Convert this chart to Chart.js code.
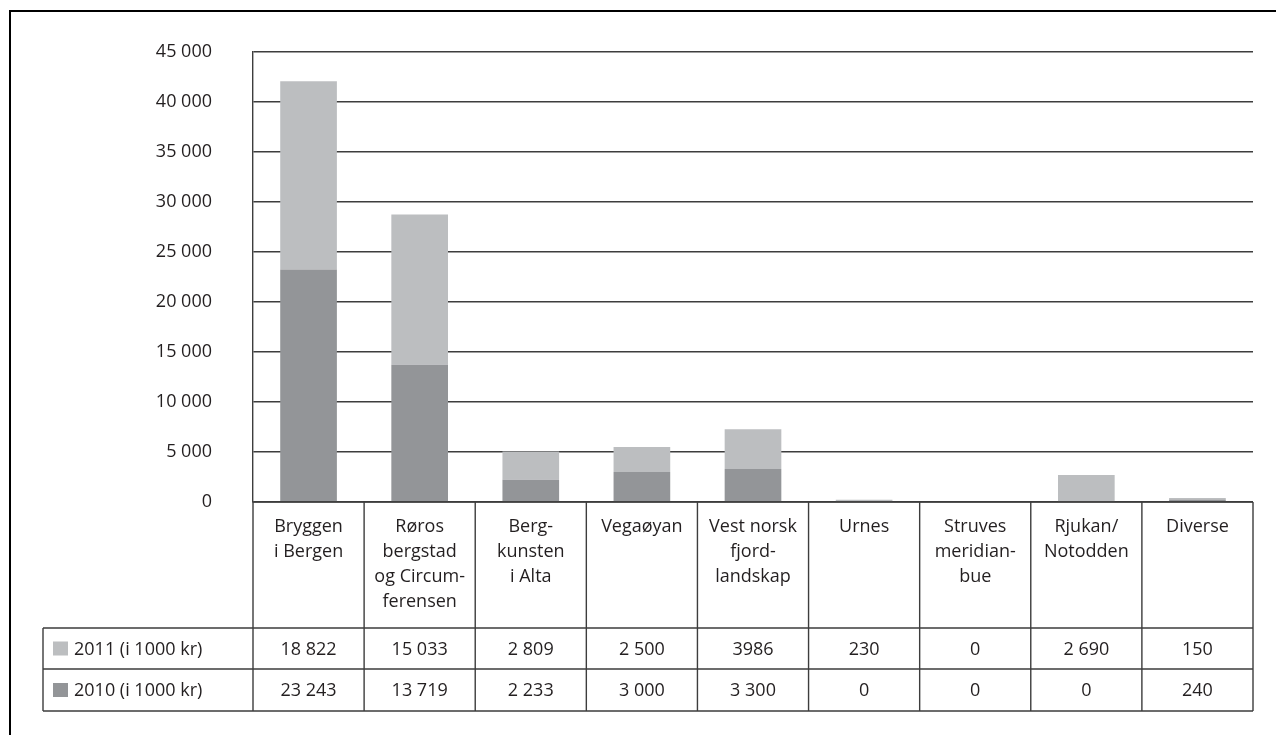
<!DOCTYPE html>
<html>
<head>
<meta charset="utf-8">
<script src="https://cdn.jsdelivr.net/npm/chart.js@4/dist/chart.umd.min.js"></script>
<style>
html,body{margin:0;padding:0;background:#fff;}
#wrap{width:1276px;height:735px;position:relative;}
</style>
</head>
<body>
<div id="wrap"><canvas id="c" width="1276" height="735"></canvas></div>
<script>
const categories = [
  ["Bryggen","i Bergen"],
  ["Røros","bergstad","og Circum-","ferensen"],
  ["Berg-","kunsten","i Alta"],
  ["Vegaøyan"],
  ["Vest norsk","fjord-","landskap"],
  ["Urnes"],
  ["Struves","meridian-","bue"],
  ["Rjukan/","Notodden"],
  ["Diverse"]
];
const values2011 = [18822, 15033, 2809, 2500, 3986, 230, 0, 2690, 150];
const values2010 = [23243, 13719, 2233, 3000, 3300, 0, 0, 0, 240];
const tableText2011 = ["18 822","15 033","2 809","2 500","3986","230","0","2 690","150"];
const tableText2010 = ["23 243","13 719","2 233","3 000","3 300","0","0","0","240"];
const seriesNames = ["2011 (i 1000 kr)", "2010 (i 1000 kr)"];
const yTicks = [0, 5000, 10000, 15000, 20000, 25000, 30000, 35000, 40000, 45000];

const COLOR_2011 = '#bcbec0';
const COLOR_2010 = '#939598';
const TEXT = '#231f20';
const LINE = '#3d3d3d';
const FONT = '"Open Sans", "Noto Sans", sans-serif';

function fmt(v){ return String(v).replace(/\B(?=(\d{3})+(?!\d))/g, ' '); }

const tablePlugin = {
  id: 'tablePlugin',
  afterDraw(chart){
    const ctx = chart.ctx;
    const x = chart.scales.x;
    const ca = chart.chartArea;
    const n = categories.length;
    const colW = (ca.right - ca.left) / n;
    const yTop = ca.bottom;          // 502
    const yRow1 = yTop + 126;        // 628
    const yRow2 = yRow1 + 41;        // 669
    const yBot = yRow2 + 42;         // 711
    const tableLeft = 43;
    ctx.save();
    // outer border
    ctx.strokeStyle = '#000';
    ctx.lineWidth = 2;
    ctx.beginPath();
    ctx.moveTo(10, 735); ctx.lineTo(10, 11); ctx.lineTo(1276, 11);
    ctx.stroke();

    ctx.strokeStyle = LINE;
    ctx.lineWidth = 1.4;
    ctx.beginPath();
    // horizontal lines
    ctx.moveTo(ca.left, yTop); ctx.lineTo(ca.right, yTop);
    ctx.moveTo(tableLeft, yRow1); ctx.lineTo(ca.right, yRow1);
    ctx.moveTo(tableLeft, yRow2); ctx.lineTo(ca.right, yRow2);
    ctx.moveTo(tableLeft, yBot); ctx.lineTo(ca.right, yBot);
    // verticals
    ctx.moveTo(tableLeft, yRow1); ctx.lineTo(tableLeft, yBot);
    for (let i = 0; i <= n; i++) {
      const xx = ca.left + i * colW;
      ctx.moveTo(xx, yTop); ctx.lineTo(xx, yBot);
    }
    ctx.stroke();

    ctx.fillStyle = TEXT;
    ctx.font = '18px ' + FONT;
    ctx.textAlign = 'center';
    ctx.textBaseline = 'middle';
    for (let i = 0; i < n; i++) {
      const cx = x.getPixelForValue(i);
      categories[i].forEach((line, k) => {
        ctx.fillText(line, cx, yTop + 25 + k * 25);
      });
      ctx.fillText(tableText2011[i], cx, (yRow1 + yRow2) / 2 + 1);
      ctx.fillText(tableText2010[i], cx, (yRow2 + yBot) / 2 + 1);
    }
    // row labels with legend squares
    ctx.textAlign = 'left';
    ctx.fillStyle = COLOR_2011;
    ctx.fillRect(53, (yRow1 + yRow2) / 2 - 7, 15, 14);
    ctx.fillStyle = COLOR_2010;
    ctx.fillRect(53, (yRow2 + yBot) / 2 - 7, 15, 14);
    ctx.fillStyle = TEXT;
    ctx.fillText(seriesNames[0], 74, (yRow1 + yRow2) / 2 + 1);
    ctx.fillText(seriesNames[1], 74, (yRow2 + yBot) / 2 + 1);
    ctx.restore();
  }
};

function build(){
  new Chart(document.getElementById('c'), {
    type: 'bar',
    data: {
      labels: categories.map(c => c.join(' ')),
      datasets: [
        { label: seriesNames[1], data: values2010, backgroundColor: COLOR_2010 },
        { label: seriesNames[0], data: values2011, backgroundColor: COLOR_2011 }
      ]
    },
    options: {
      responsive: false,
      animation: false,
      devicePixelRatio: 1,
      layout: { padding: { left: 0, right: 23, top: 52, bottom: 233 } },
      plugins: { legend: { display: false }, tooltip: { enabled: false } },
      datasets: { bar: { categoryPercentage: 1, barPercentage: 0.51 } },
      scales: {
        x: {
          stacked: true,
          ticks: { display: false },
          grid: { display: false },
          border: { display: false },
          afterFit(s){ s.height = 0; }
        },
        y: {
          stacked: true,
          min: 0, max: 45000,
          afterBuildTicks(s){ s.ticks = yTicks.map(v => ({ value: v })); },
          ticks: {
            color: TEXT,
            font: { family: FONT, size: 18 },
            padding: 41,
            callback: v => fmt(v)
          },
          grid: { color: LINE, lineWidth: 1.4, drawTicks: false },
          border: { display: true, color: LINE, width: 1.4 },
          afterFit(s){ s.width = 253; }
        }
      }
    },
    plugins: [tablePlugin]
  });
}
if (document.fonts && document.fonts.load) {
  document.fonts.load('18px "Open Sans"').then(build, build);
} else build();
</script>
</body>
</html>
